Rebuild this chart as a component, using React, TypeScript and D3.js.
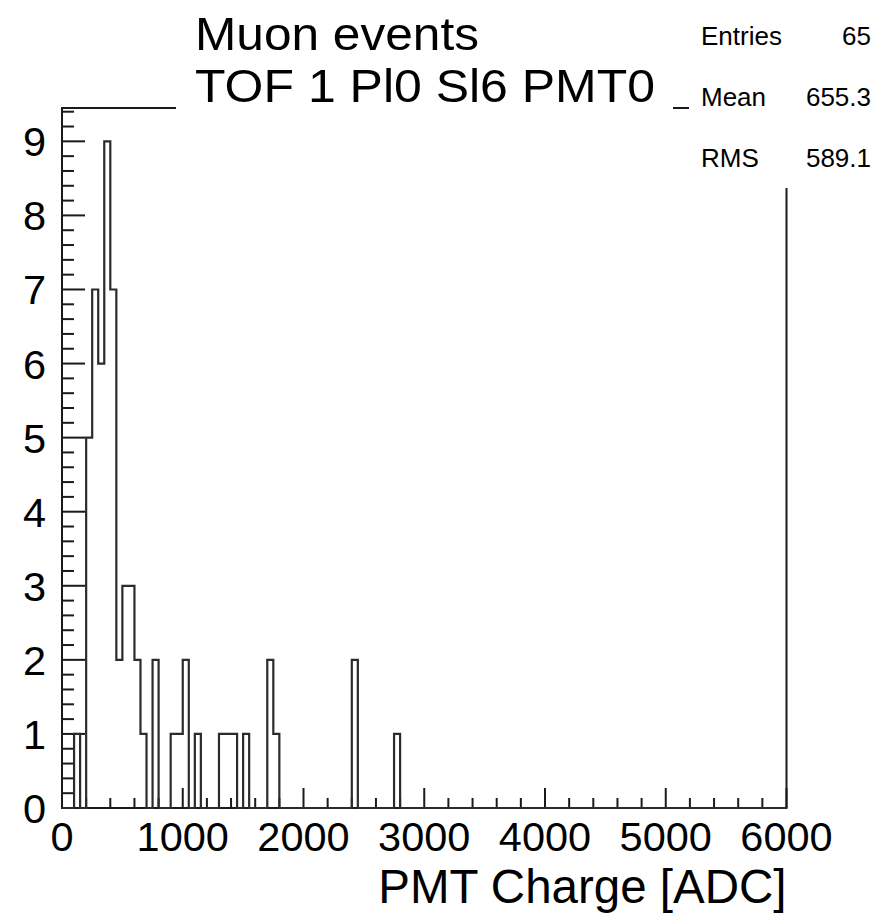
import React from "react";
import * as d3 from "d3";

// Histogram binning (ADC counts)
const binWidth = 50;
const xDomain: [number, number] = [0, 6000];
const yMax = 9.45;

// Lower edges of the non-empty bins and their contents
const filledBinLow = [
  100, 200, 250, 300, 350, 400, 450, 500, 550, 600, 650, 750, 900, 950, 1000,
  1100, 1300, 1350, 1400, 1500, 1700, 1750, 2400, 2750,
];
const filledBinCount = [
  1, 5, 7, 6, 9, 7, 2, 3, 3, 2, 1, 2, 1, 1, 2, 1, 1, 1, 1, 1, 2, 1, 2, 1,
];

const xTickLabels = [0, 1000, 2000, 3000, 4000, 5000, 6000];
const yTickLabels = [0, 1, 2, 3, 4, 5, 6, 7, 8, 9];

const titleLines = ["Muon events", "TOF 1 Pl0 Sl6 PMT0"];
const statLabels = ["Entries", "Mean", "RMS"];
const statValues = ["65", "655.3", "589.1"];
const xAxisTitle = "PMT Charge [ADC]";

const FONT = "'Liberation Sans', Arial, Helvetica, sans-serif";
const INK = "#1a1a1a";

export default function App() {
  const W = 883;
  const H = 913;
  const left = 62;
  const right = 786.5;
  const top = 108;
  const bottom = 808;

  const x = d3.scaleLinear().domain(xDomain).range([left, right]);
  const y = d3.scaleLinear().domain([0, yMax]).range([bottom, top]);

  // Expand the sparse list into every bin of the histogram
  const nBins = Math.round((xDomain[1] - xDomain[0]) / binWidth);
  const counts: number[] = new Array(nBins).fill(0);
  filledBinLow.forEach((lo, i) => {
    counts[Math.round((lo - xDomain[0]) / binWidth)] = filledBinCount[i];
  });

  // Outline of the histogram as a step contour
  const pts: [number, number][] = [[xDomain[0], 0]];
  counts.forEach((c, i) => {
    const lo = xDomain[0] + i * binWidth;
    pts.push([lo, c]);
    pts.push([lo + binWidth, c]);
  });
  pts.push([xDomain[1], 0]);
  const outline = d3
    .line<[number, number]>()
    .x((d) => x(d[0]))
    .y((d) => y(d[1]))(pts);

  // Axis ticks
  const xMinor = d3.range(0, 6000 + 1, 200).filter((v) => v % 1000 !== 0);
  const yMinor = d3
    .range(0, yMax, 0.2)
    .map((v) => Math.round(v * 10) / 10)
    .filter((v) => Math.abs(v - Math.round(v)) > 1e-6);

  // Title line placement inside the title pave
  const titleBaselines = [50, 102];
  const titleWidths = [284, 460];

  return (
    <svg
      width={W}
      height={H}
      viewBox={`0 0 ${W} ${H}`}
      style={{ position: "absolute", left: 0, top: 0, display: "block", background: "#fff" }}
    >
      <rect x={0} y={0} width={W} height={H} fill="#fff" />

      {/* frame */}
      <rect
        x={left}
        y={top}
        width={right - left}
        height={bottom - top}
        fill="none"
        stroke={INK}
        strokeWidth={2}
      />

      {/* y ticks */}
      {yTickLabels.map((v) => (
        <line key={`ym${v}`} x1={left} x2={left + 23} y1={y(v)} y2={y(v)} stroke={INK} strokeWidth={2} />
      ))}
      {yMinor.map((v) => (
        <line key={`yn${v}`} x1={left} x2={left + 12} y1={y(v)} y2={y(v)} stroke={INK} strokeWidth={2} />
      ))}

      {/* x ticks */}
      {xTickLabels.map((v) => (
        <line key={`xm${v}`} x1={x(v)} x2={x(v)} y1={bottom} y2={bottom - 20} stroke={INK} strokeWidth={2} />
      ))}
      {xMinor.map((v) => (
        <line key={`xn${v}`} x1={x(v)} x2={x(v)} y1={bottom} y2={bottom - 10} stroke={INK} strokeWidth={2} />
      ))}

      {/* histogram */}
      <path d={outline ?? ""} fill="none" stroke="#2b2b2b" strokeWidth={2.2} strokeLinejoin="miter" />

      {/* title pave */}
      <rect x={176} y={0} width={673 - 176} height={118} fill="#fff" />
      {titleLines.map((t, i) => (
        <text
          key={t}
          x={195}
          y={titleBaselines[i]}
          fontFamily={FONT}
          fontSize={46.5}
          fill="#000"
          textLength={titleWidths[i]}
          lengthAdjust="spacingAndGlyphs"
        >
          {t}
        </text>
      ))}

      {/* statistics pave */}
      <rect x={689} y={0} width={W - 689} height={188} fill="#fff" />
      {statLabels.map((t, i) => (
        <g key={t}>
          <text x={701} y={45 + i * 61} fontFamily={FONT} fontSize={26} fill="#000">
            {t}
          </text>
          <text
            x={871}
            y={45 + i * 61}
            fontFamily={FONT}
            fontSize={26}
            fill="#000"
            textAnchor="end"
          >
            {statValues[i]}
          </text>
        </g>
      ))}

      {/* y tick labels */}
      {yTickLabels.map((v) => (
        <text
          key={`yl${v}`}
          x={46}
          y={y(v) + 15}
          fontFamily={FONT}
          fontSize={41.5}
          textAnchor="end"
          fill="#000"
        >
          {v}
        </text>
      ))}

      {/* x tick labels */}
      {xTickLabels.map((v) => (
        <text
          key={`xl${v}`}
          x={x(v)}
          y={851}
          fontFamily={FONT}
          fontSize={41.5}
          textAnchor="middle"
          fill="#000"
        >
          {v}
        </text>
      ))}

      {/* x axis title */}
      <text
        x={right}
        y={903}
        fontFamily={FONT}
        fontSize={47.5}
        textAnchor="end"
        fill="#000"
      >
        {xAxisTitle}
      </text>
    </svg>
  );
}
